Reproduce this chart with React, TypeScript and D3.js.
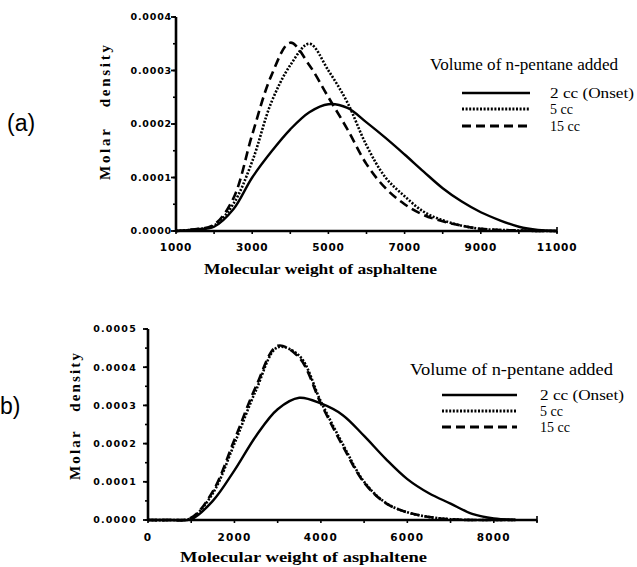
import React from "react";
import * as d3 from "d3";

// ---------- Data ----------
const seriesNames = ["2 cc (Onset)", "5 cc", "15 cc"];
const legendTitle = "Volume of n-pentane added";
const xTitle = "Molecular weight of asphaltene";
const yTitle = "Molar   density";

// Panel (a)
const mwA = [1000, 1500, 2000, 2500, 3000, 3500, 4000, 4500, 5000, 5500, 6000, 6500, 7000, 7500, 8000, 8500, 9000, 9500, 10000, 10500, 11000];
const a2cc = [0, 0.000003, 0.000008, 0.00004, 0.0001, 0.000148, 0.00019, 0.000222, 0.000237, 0.00023, 0.000203, 0.000174, 0.000143, 0.000111, 0.00008, 0.000055, 0.000035, 0.00002, 0.000008, 0.000002, 0];
const a5cc = [0, 0.000003, 0.00001, 0.00005, 0.00013, 0.00024, 0.00031, 0.00035, 0.0003, 0.00024, 0.00016, 0.0001, 0.000065, 0.000036, 0.00002, 0.00001, 0.000004, 0.000002, 0.000001, 0, 0];
const a15cc = [0, 0.000003, 0.000012, 0.00006, 0.00018, 0.00029, 0.000352, 0.00031, 0.00025, 0.00019, 0.000125, 0.00008, 0.00005, 0.00003, 0.000018, 0.00001, 0.000004, 0.000002, 0.000001, 0, 0];
const xTicksA = [1000, 3000, 5000, 7000, 9000, 11000];
const yTicksA = [0, 0.0001, 0.0002, 0.0003, 0.0004];
const yTickLabelsA = ["0.0000", "0.0001", "0.0002", "0.0003", "0.0004"];

// Panel (b)
const mwB = [0, 500, 1000, 1500, 2000, 2500, 3000, 3500, 4000, 4500, 5000, 5500, 6000, 6500, 7000, 7500, 8000, 8500];
const b2cc = [0, 0, 0.000002, 0.00005, 0.00013, 0.00022, 0.00029, 0.00032, 0.000305, 0.000275, 0.00022, 0.00016, 0.000107, 0.00007, 0.000043, 0.000016, 0.000004, 0.000001];
const b5cc = [0, 0, 0.000005, 0.00007, 0.0002, 0.00034, 0.000452, 0.00043, 0.00031, 0.0002, 0.0001, 0.000045, 0.00002, 0.000008, 0.000002, 0, 0, 0];
const b15cc = [0, 0, 0.000006, 0.000075, 0.00021, 0.00035, 0.000456, 0.000425, 0.000305, 0.000195, 0.000098, 0.000044, 0.00002, 0.000008, 0.000002, 0, 0, 0];
const xTicksB = [0, 2000, 4000, 6000, 8000];
const yTicksB = [0, 0.0001, 0.0002, 0.0003, 0.0004, 0.0005];
const yTickLabelsB = ["0.0000", "0.0001", "0.0002", "0.0003", "0.0004", "0.0005"];

const dashes = [null, "2 1.6", "9 5"];

type PanelProps = {
  label: string;
  labelX: number;
  labelY: number;
  xDomain: [number, number];
  xRange: [number, number];
  yDomain: [number, number];
  yRange: [number, number];
  xs: number[];
  series: number[][];
  xTicks: number[];
  xMinor: number;
  yTicks: number[];
  yLabels: string[];
  yMinor: number;
  tickFont: number;
  tickSpacing: number;
  yLabelGap: number;
  xLabelDy: number;
  xTitleX: number;
  xTitleY: number;
  xTitleLen: number;
  yTitleX: number;
  yTitleY: number;
  yTitleLen: number;
  legX: number;
  legY: number;
  legLineX0: number;
  legLineX1: number;
  legTextX: number;
  legRows: number[];
  legTitleLen: number;
};

function Panel(p: PanelProps) {
  const x = d3.scaleLinear().domain(p.xDomain).range(p.xRange);
  const y = d3.scaleLinear().domain(p.yDomain).range(p.yRange);
  const line = d3
    .line<number>()
    .x((_, i) => x(p.xs[i]))
    .y((d) => y(d))
    .curve(d3.curveCatmullRom.alpha(0.5));
  const x0 = p.xRange[0];
  const y0 = p.yRange[0];
  const xMinorTicks = d3.range(p.xDomain[0], p.xDomain[1] + 1, p.xMinor);
  const yMinorTicks = d3.range(p.yDomain[0], p.yDomain[1] + 1e-9, p.yMinor);
  return (
    <g>
      <text x={p.labelX} y={p.labelY} fontFamily="Liberation Sans, Arial, sans-serif" fontSize={23}>
        {p.label}
      </text>
      {p.series.map((s, i) => (
        <path
          key={i}
          d={line(s) || ""}
          fill="none"
          stroke="#000"
          strokeWidth={i === 0 ? 2.4 : 2.6}
          strokeDasharray={dashes[i] || undefined}
        />
      ))}
      <line x1={x0} x2={x0} y1={y0 + 1} y2={p.yRange[1]} stroke="#000" strokeWidth={2.6} />
      <line x1={x0 - 1} x2={p.xRange[1]} y1={y0} y2={y0} stroke="#000" strokeWidth={2.6} />
      {xMinorTicks.map((t) => (
        <line key={"xm" + t} x1={x(t)} x2={x(t)} y1={y0} y2={y0 + 3} stroke="#000" strokeWidth={1.6} />
      ))}
      <line x1={p.xRange[1]} x2={p.xRange[1]} y1={y0 - 4} y2={y0 + 2} stroke="#000" strokeWidth={1.6} />
      {yMinorTicks.map((t, i) => (
        <line key={"ym" + i} x1={x0 - 3} x2={x0} y1={y(t)} y2={y(t)} stroke="#000" strokeWidth={1.6} />
      ))}
      {p.yTicks.map((t, i) => (
        <g key={"yt" + i}>
          <line x1={x0 - 5} x2={x0} y1={y(t)} y2={y(t)} stroke="#000" strokeWidth={1.8} />
          <text
            x={x0 - p.yLabelGap}
            y={y(t)}
            dy="0.35em"
            textAnchor="end"
            fontFamily="DejaVu Sans, sans-serif"
            fontWeight="bold"
            fontSize={p.tickFont}
            letterSpacing={p.tickSpacing}
          >
            {p.yLabels[i]}
          </text>
        </g>
      ))}
      {p.xTicks.map((t) => (
        <text
          key={"xt" + t}
          x={x(t)}
          y={y0 + p.xLabelDy}
          textAnchor="middle"
          fontFamily="DejaVu Sans, sans-serif"
          fontWeight="bold"
          fontSize={p.tickFont + 1}
          letterSpacing={p.tickSpacing}
        >
          {t}
        </text>
      ))}
      <text
        x={p.xTitleX}
        y={p.xTitleY}
        fontFamily="Liberation Serif, Times New Roman, serif"
        fontWeight="bold"
        fontSize={15}
        textLength={p.xTitleLen}
        lengthAdjust="spacingAndGlyphs"
      >
        {xTitle}
      </text>
      <text
        transform={`translate(${p.yTitleX},${p.yTitleY}) rotate(-90)`}
        fontFamily="Liberation Serif, Times New Roman, serif"
        fontWeight="bold"
        fontSize={15}
        textLength={p.yTitleLen}
        lengthAdjust="spacing"
        style={{ whiteSpace: "pre" }}
      >
        {yTitle}
      </text>
      <text
        x={p.legX}
        y={p.legY}
        fontFamily="Liberation Serif, Times New Roman, serif"
        fontSize={16}
        textLength={p.legTitleLen}
        lengthAdjust="spacingAndGlyphs"
      >
        {legendTitle}
      </text>
      {seriesNames.map((n, i) => (
        <g key={n}>
          <line
            x1={p.legLineX0}
            x2={p.legLineX1}
            y1={p.legRows[i]}
            y2={p.legRows[i]}
            stroke="#000"
            strokeWidth={i === 0 ? 2.6 : 3}
            strokeDasharray={dashes[i] || undefined}
          />
          <text
            x={p.legTextX}
            y={p.legRows[i]}
            dy="0.33em"
            fontFamily="Liberation Serif, Times New Roman, serif"
            fontSize={14}
            textLength={i === 0 ? 84 : undefined}
            lengthAdjust="spacingAndGlyphs"
          >
            {n}
          </text>
        </g>
      ))}
    </g>
  );
}

export default function App() {
  return (
    <svg
      width={637}
      height={567}
      style={{ position: "absolute", left: 0, top: 0, background: "#fff" }}
    >
      <rect width={637} height={567} fill="#fff" />
      <Panel
        label="(a)"
        labelX={7}
        labelY={131}
        xDomain={[1000, 11000]}
        xRange={[176, 557]}
        yDomain={[0, 0.0004]}
        yRange={[231, 17]}
        xs={mwA}
        series={[a2cc, a5cc, a15cc]}
        xTicks={xTicksA}
        xMinor={1000}
        yTicks={yTicksA}
        yLabels={yTickLabelsA}
        yMinor={0.00005}
        tickFont={9.5}
        tickSpacing={0.8}
        yLabelGap={4}
        xLabelDy={20}
        xTitleX={204}
        xTitleY={274}
        xTitleLen={233}
        yTitleX={110}
        yTitleY={180}
        yTitleLen={135}
        legX={430}
        legY={70}
        legLineX0={462}
        legLineX1={530}
        legTextX={550}
        legRows={[93, 109, 126]}
        legTitleLen={188}
      />
      <Panel
        label="b)"
        labelX={0}
        labelY={414}
        xDomain={[0, 9000]}
        xRange={[148, 537]}
        yDomain={[0, 0.0005]}
        yRange={[520, 329]}
        xs={mwB}
        series={[b2cc, b5cc, b15cc]}
        xTicks={xTicksB}
        xMinor={1000}
        yTicks={yTicksB}
        yLabels={yTickLabelsB}
        yMinor={0.00005}
        tickFont={9.5}
        tickSpacing={1.2}
        yLabelGap={11}
        xLabelDy={21}
        xTitleX={180}
        xTitleY={562}
        xTitleLen={247}
        yTitleX={80}
        yTitleY={480}
        yTitleLen={127}
        legX={410}
        legY={375}
        legLineX0={442}
        legLineX1={517}
        legTextX={540}
        legRows={[395, 411, 427]}
        legTitleLen={203}
      />
    </svg>
  );
}
